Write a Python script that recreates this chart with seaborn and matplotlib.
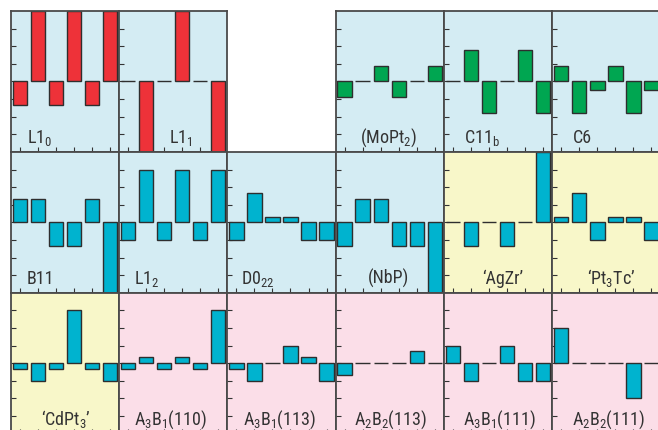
import matplotlib
matplotlib.use("Agg")
import matplotlib.pyplot as plt
from matplotlib import font_manager as fm
import pandas as pd
import seaborn as sns

sns.set_style("white")

# Prefer a narrow sans face for the panel names
available = {f.name for f in fm.fontManager.ttflist}
label_stretch = "normal"
if "Liberation Sans Narrow" in available:
    label_family = "Liberation Sans Narrow"
elif "Roboto Condensed" in available:
    label_family = "Roboto Condensed"
elif any(f.name == "DejaVu Sans" and f.stretch == "condensed"
         for f in fm.fontManager.ttflist):
    label_family = "DejaVu Sans"
    label_stretch = "condensed"
else:
    label_family = "Roboto"
plt.rcParams["font.family"] = [label_family, "DejaVu Sans"]
plt.rcParams["mathtext.fontset"] = "custom"

# Structure names (subscripts via mathtext)
names = [
    r"L1$_\mathregular{0}$", r"L1$_\mathregular{1}$", r"(MoPt$_\mathregular{2}$)",
    r"C11$_\mathregular{b}$", "C6",
    "B11", r"L1$_\mathregular{2}$", r"D0$_\mathregular{22}$", "(NbP)",
    "‘AgZr’", r"‘Pt$_\mathregular{3}$Tc’",
    r"‘CdPt$_\mathregular{3}$’", r"A$_\mathregular{3}$B$_\mathregular{1}$(110)",
    r"A$_\mathregular{3}$B$_\mathregular{1}$(113)", r"A$_\mathregular{2}$B$_\mathregular{2}$(113)",
    r"A$_\mathregular{3}$B$_\mathregular{1}$(111)", r"A$_\mathregular{2}$B$_\mathregular{2}$(111)",
]

# Six layer values per structure
values = [
    [-1.33, 4, -1.33, 4, -1.33, 4],
    [0, -4, 0, 4, 0, -4],
    [-0.9, 0, 0.88, -0.9, 0, 0.88],
    [0, 1.76, -1.8, 0, 1.76, -1.8],
    [0.88, -1.8, -0.48, 0.88, -1.8, -0.48],
    [1.33, 1.33, -1.33, -1.33, 1.33, -4],
    [-1, 3, -1, 3, -1, 3],
    [-1, 1.67, 0.33, 0.33, -1, -1],
    [-1.33, 1.33, 1.33, -1.33, -1.33, -4],
    [0, -1.33, 0, -1.33, 0, 4],
    [0.33, 1.67, -1, 0.33, 0.33, -1],
    [-0.33, -1, -0.33, 3, -0.33, -1],
    [-0.33, 0.33, -0.33, 0.33, -0.33, 3],
    [-0.33, -1, 0, 1, 0.33, -1],
    [-0.67, 0, 0, 0, 0.67, 0],
    [1, -1, 0, 1, -1, -1],
    [2, 0, 0, 0, -2, 0],
]

# Bar colour group and panel shading group per structure
bar_group = ["red", "red", "green", "green", "green"] + ["cyan"] * 12
shade_group = (["blue"] * 5 + ["blue"] * 4 + ["yellow"] * 2 +
               ["yellow"] + ["pink"] * 5)

# grid cell (row, column) of each panel
cells = [(0, 0), (0, 1), (0, 3), (0, 4), (0, 5),
         (1, 0), (1, 1), (1, 2), (1, 3), (1, 4), (1, 5),
         (2, 0), (2, 1), (2, 2), (2, 3), (2, 4), (2, 5)]
# horizontal placement of each name inside its panel (axes fraction)
name_x = [0.27, 0.57, 0.49, 0.35, 0.28,
          0.27, 0.26, 0.28, 0.49, 0.54, 0.545,
          0.51, 0.475, 0.48, 0.505, 0.51, 0.52]

bar_colors = {"red": "#ee3239", "green": "#00a651", "cyan": "#00b3cf"}
shade_colors = {"blue": "#d4ecf3", "yellow": "#f8f7c9", "pink": "#fbdee8"}

W, H = 658, 431
fig = plt.figure(figsize=(W / 100, H / 100), dpi=100)

x0, pw = 10.7, 108.3
y0, ph = 12.0, 140.9

for name, vals, bg, sh, (r, c), nx in zip(names, values, bar_group, shade_group,
                                          cells, name_x):
    left = (x0 + c * pw) / W
    top = y0 + r * ph
    bottom = (H - top - ph) / H
    ax = fig.add_axes([left, bottom, pw / W, ph / H])
    ax.set_facecolor(shade_colors[sh])
    df = pd.DataFrame({"layer": list(range(6)), "value": vals})
    sns.barplot(data=df, x="layer", y="value", ax=ax, color=bar_colors[bg],
                saturation=1, width=0.8, edgecolor="#2e2e2e", linewidth=1.0,
                errorbar=None)
    ax.set_xlim(-0.5, 5.5)
    ax.set_ylim(-4, 4)
    ax.set_xticks(range(6))
    ax.set_yticks(range(-3, 4))
    ax.set_xticklabels([])
    ax.set_yticklabels([])
    ax.set_xlabel("")
    ax.set_ylabel("")
    ax.tick_params(direction="in", length=3.5, width=0.8, colors="#333333",
                   left=True, bottom=True, right=False, top=False)
    for s in ax.spines.values():
        s.set_color("#4a4a4a")
        s.set_linewidth(1.3)
    ax.text(nx, 0.072, name, transform=ax.transAxes, ha="center",
            va="baseline", fontsize=13, color="#333333",
            fontstretch=label_stretch)

fig.savefig("out.png", dpi=100)
